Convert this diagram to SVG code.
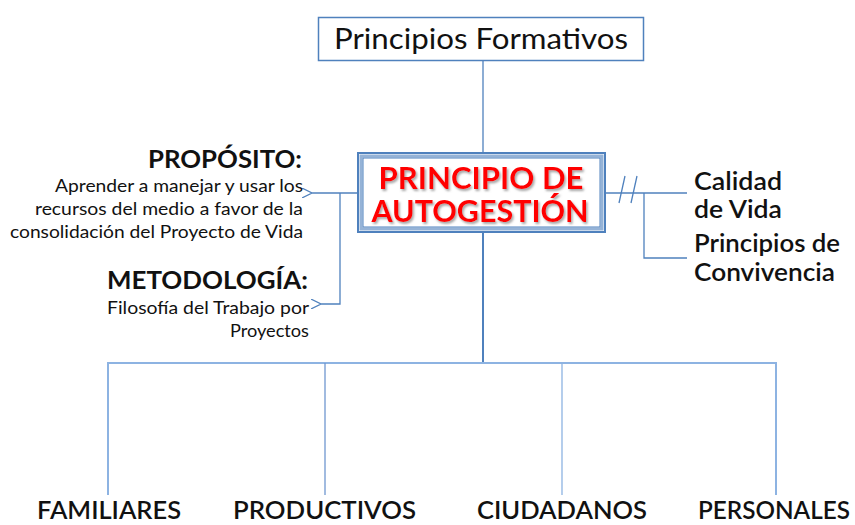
<svg xmlns="http://www.w3.org/2000/svg" width="855" height="525" viewBox="0 0 855 525">
<defs>
<style>
.ln{stroke:#4f81bd;stroke-width:1.3;fill:none}
.lt{stroke:#8db3e2;stroke-width:2;fill:none}
.t{font-family:Lato,"Open Sans","DejaVu Sans",sans-serif;fill:#111}
.hd{font-weight:bold;font-size:25px;text-anchor:end}
.sm{font-size:17px;text-anchor:end}
.rt{font-size:25px;font-weight:600}
.bt{font-size:25px;font-weight:600}
.red{font-family:Lato,"Open Sans","DejaVu Sans",sans-serif;font-weight:bold;font-size:31px;fill:#ff0000;text-anchor:middle}
</style>
<filter id="shadow" x="-10%" y="-20%" width="120%" height="140%">
<feDropShadow dx="1.5" dy="2" stdDeviation="0.8" flood-color="#808080" flood-opacity="0.7"/>
</filter>
<marker id="arr" viewBox="0 0 10 10" refX="0" refY="5" markerWidth="10" markerHeight="10" markerUnits="userSpaceOnUse" orient="auto">
<path d="M10,0 L0,5 L10,10" fill="none" stroke="#4f81bd" stroke-width="1.2"/>
</marker>
</defs>
<rect width="855" height="525" fill="#ffffff"/>
<g id="connectors">
<line class="ln" x1="483" y1="60" x2="483" y2="152"/>
<line class="ln" x1="483" y1="233" x2="483" y2="363" style="stroke-width:2"/>
<polyline class="lt" points="108,495 108,363 776,363 776,495"/>
<line class="lt" x1="325" y1="363" x2="325" y2="495" style="stroke:#6f97cf;stroke-width:1.3"/>
<line class="lt" x1="562" y1="363" x2="562" y2="495" style="stroke-width:1.3"/>
<line class="ln" x1="357" y1="193" x2="312" y2="193" marker-end="url(#arr)"/>
<polyline class="ln" points="340,193 340,304 321,304" marker-end="url(#arr)"/>
<line class="ln" x1="606" y1="193" x2="687" y2="193"/>
<polyline class="ln" points="644,193 644,258 687,258"/>
<line class="ln" x1="619" y1="203" x2="625" y2="176"/>
<line class="ln" x1="631" y1="203" x2="637" y2="176"/>
</g>
<g id="principios-formativos">
<rect x="318.5" y="17.5" width="325" height="43" fill="#fff" stroke="#4f81bd" stroke-width="1.5"/>
<text class="t" x="481" y="49" font-size="29" text-anchor="middle" textLength="294" lengthAdjust="spacingAndGlyphs">Principios Formativos</text>
</g>
<g id="principio-autogestion">
<rect x="358" y="153" width="247" height="79" fill="#fff" stroke="#4f81bd" stroke-width="2"/>
<rect x="361" y="156" width="241" height="73" fill="none" stroke="#95b3d7" stroke-width="3"/>
<rect x="363" y="158" width="237" height="69" fill="none" stroke="#4f81bd" stroke-width="1"/>
<g filter="url(#shadow)">
<text class="red" x="481" y="189" textLength="205" lengthAdjust="spacingAndGlyphs">PRINCIPIO DE</text>
<text class="red" x="480" y="222" textLength="217" lengthAdjust="spacingAndGlyphs">AUTOGESTIÓN</text>
</g>
</g>
<g id="proposito">
<text class="t hd" x="302" y="168" textLength="154" lengthAdjust="spacingAndGlyphs">PROPÓSITO:</text>
<text class="t sm" x="303" y="192" textLength="248" lengthAdjust="spacingAndGlyphs">Aprender a manejar y usar los</text>
<text class="t sm" x="303" y="215" textLength="268" lengthAdjust="spacingAndGlyphs">recursos del medio a favor de la</text>
<text class="t sm" x="303" y="238" textLength="293" lengthAdjust="spacingAndGlyphs">consolidación del Proyecto de Vida</text>
</g>
<g id="metodologia">
<text class="t hd" x="308" y="289" textLength="201" lengthAdjust="spacingAndGlyphs">METODOLOGÍA:</text>
<text class="t sm" x="309" y="314" textLength="202" lengthAdjust="spacingAndGlyphs">Filosofía del Trabajo por</text>
<text class="t sm" x="309" y="337" textLength="79" lengthAdjust="spacingAndGlyphs">Proyectos</text>
</g>
<g id="calidad-de-vida">
<text class="t rt" x="694" y="190" textLength="88" lengthAdjust="spacingAndGlyphs">Calidad</text>
<text class="t rt" x="694" y="218" textLength="88" lengthAdjust="spacingAndGlyphs">de Vida</text>
</g>
<g id="principios-convivencia">
<text class="t rt" x="694" y="252" textLength="146" lengthAdjust="spacingAndGlyphs">Principios de</text>
<text class="t rt" x="694" y="281" textLength="141" lengthAdjust="spacingAndGlyphs">Convivencia</text>
</g>
<g id="familiares"><text class="t bt" x="37" y="519" textLength="144" lengthAdjust="spacingAndGlyphs">FAMILIARES</text></g>
<g id="productivos"><text class="t bt" x="233" y="519" textLength="183" lengthAdjust="spacingAndGlyphs">PRODUCTIVOS</text></g>
<g id="ciudadanos"><text class="t bt" x="477" y="519" textLength="170" lengthAdjust="spacingAndGlyphs">CIUDADANOS</text></g>
<g id="personales"><text class="t bt" x="698" y="519" textLength="152" lengthAdjust="spacingAndGlyphs">PERSONALES</text></g>
</svg>
